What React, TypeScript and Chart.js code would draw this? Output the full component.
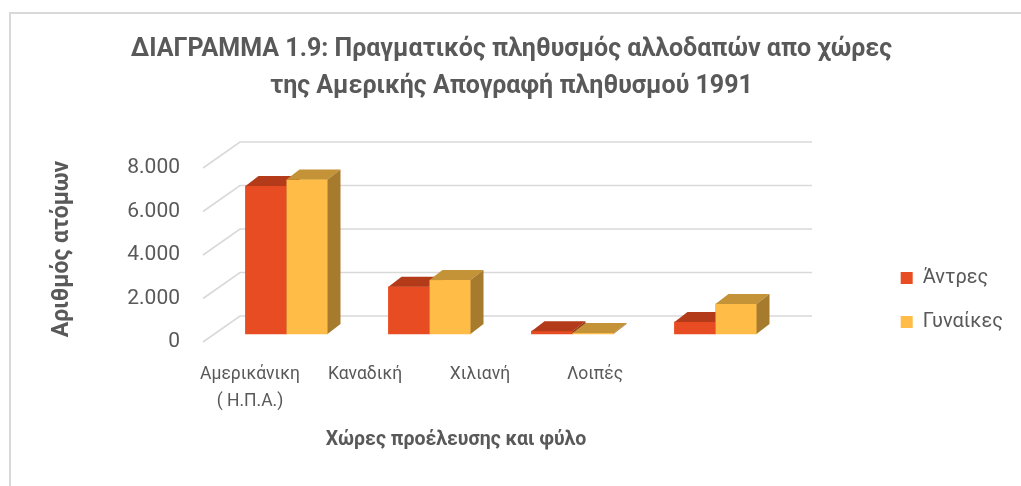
import React, { useEffect, useRef } from 'react';
import { Chart, registerables } from 'chart.js';

Chart.register(...registerables);

// ---------- data ----------
const TITLE_LINES = [
  'ΔΙΑΓΡΑΜΜΑ 1.9: Πραγματικός πληθυσμός αλλοδαπών απο χώρες',
  'της Αμερικής Απογραφή πληθυσμού 1991',
];
const CATEGORIES: (string | string[])[] = [
  ['Αμερικάνικη', '( Η.Π.Α.)'],
  'Καναδική',
  'Χιλιανή',
  'Λοιπές',
];
const SERIES_NAMES = ['Άντρες', 'Γυναίκες'];
const MEN = [6800, 2170, 130, 550];
const WOMEN = [7100, 2480, 50, 1380];
const Y_TICKS = [0, 2000, 4000, 6000, 8000];
const Y_TITLE = 'Αριθμός ατόμων';
const X_TITLE = 'Χώρες προέλευσης και φύλο';

// ---------- styles / geometry ----------
const FONT = 'Roboto, "Noto Sans", "DejaVu Sans", sans-serif';
const TEXT = '#595959';
const GRID = '#d9d9d9';
const FACES = [
  { front: '#E84C22', top: '#B33B1A', side: '#973116' },
  { front: '#FFBD47', top: '#C49237', side: '#A67B2E' },
];
const WALL = { dx: 37, dy: -26 }; // front plane -> back wall
const SHIFT = { dx: 12, dy: -8 }; // front plane -> bar front faces
const DEPTH = { dx: 13, dy: -10 }; // bar thickness in depth

const PLOT_LEFT = 203;
const PLOT_RIGHT = 709;
const PLOT_TOP = 142;
const PLOT_BOTTOM = 356;
const ZERO_Y = 342;
const PX_PER_UNIT = 174 / 8000;
const BAR_STEP = 143;
const LABEL_STEP = 115;
const FIRST_LABEL = 250;

const fmt = (v: number) => String(v).replace(/\B(?=(\d{3})+(?!\d))/g, '.');

const framePlugin = {
  id: 'frame',
  beforeDraw(chart: any) {
    const { ctx, width, height } = chart;
    ctx.save();
    ctx.fillStyle = '#ffffff';
    ctx.fillRect(0, 0, width, height);
    ctx.strokeStyle = GRID;
    ctx.lineWidth = 2;
    ctx.beginPath();
    ctx.moveTo(10, height + 5);
    ctx.lineTo(10, 13);
    ctx.lineTo(width + 5, 13);
    ctx.stroke();
    ctx.restore();
  },
};

const poly = (ctx: CanvasRenderingContext2D, pts: number[][], color: string) => {
  ctx.beginPath();
  ctx.moveTo(pts[0][0], pts[0][1]);
  for (let i = 1; i < pts.length; i++) ctx.lineTo(pts[i][0], pts[i][1]);
  ctx.closePath();
  ctx.fillStyle = color;
  ctx.fill();
};

const threeDPlugin = {
  id: 'threeD',
  beforeDatasetsDraw(chart: any) {
    const { ctx } = chart;
    const xs = chart.scales.x;
    const ys = chart.scales.y;
    const left = xs.getPixelForValue(-0.5);
    const right = xs.getPixelForValue(CATEGORIES.length - 0.5);
    ctx.save();
    ctx.strokeStyle = GRID;
    ctx.lineWidth = 1.6;
    for (const v of Y_TICKS) {
      const py = ys.getPixelForValue(v);
      ctx.beginPath();
      ctx.moveTo(left, py);
      ctx.lineTo(left + WALL.dx, py + WALL.dy);
      ctx.lineTo(right + WALL.dx, py + WALL.dy);
      ctx.stroke();
    }
    ctx.restore();
    ctx.save();
    ctx.translate(SHIFT.dx, SHIFT.dy);
  },
  afterDatasetsDraw(chart: any) {
    const { ctx } = chart;
    const metas = [chart.getDatasetMeta(0), chart.getDatasetMeta(1)];
    for (let i = 0; i < CATEGORIES.length; i++) {
      metas.forEach((meta: any, d: number) => {
        const bar = meta.data[i];
        if (!bar) return;
        const { x, y, base, width } = bar.getProps(['x', 'y', 'base', 'width'], true);
        const l = x - width / 2;
        const r = x + width / 2;
        const c = FACES[d];
        ctx.fillStyle = c.front;
        ctx.fillRect(l, y, width, base - y);
        poly(ctx, [[l, y], [r, y], [r + DEPTH.dx, y + DEPTH.dy], [l + DEPTH.dx, y + DEPTH.dy]], c.top);
        poly(ctx, [[r, y], [r + DEPTH.dx, y + DEPTH.dy], [r + DEPTH.dx, base + DEPTH.dy], [r, base]], c.side);
      });
    }
    ctx.restore();
  },
};

export default function App() {
  const ref = useRef<HTMLCanvasElement | null>(null);

  useEffect(() => {
    if (!ref.current) return;
    const plotW = PLOT_RIGHT - PLOT_LEFT;
    const xlMin = -(FIRST_LABEL - PLOT_LEFT) / LABEL_STEP;
    const yMin = -(PLOT_BOTTOM - ZERO_Y) / PX_PER_UNIT;
    const yMax = (ZERO_Y - PLOT_TOP) / PX_PER_UNIT;
    const chart = new Chart(ref.current, {
      type: 'bar',
      data: {
        datasets: [
          {
            label: SERIES_NAMES[0],
            data: MEN.map((v, i) => ({ x: i, y: v })),
            backgroundColor: FACES[0].front,
            borderWidth: 0,
            clip: false,
            xAxisID: 'x',
            yAxisID: 'y',
          } as any,
          {
            label: SERIES_NAMES[1],
            data: WOMEN.map((v, i) => ({ x: i, y: v })),
            backgroundColor: FACES[1].front,
            borderWidth: 0,
            clip: false,
            xAxisID: 'x',
            yAxisID: 'y',
          } as any,
        ],
      },
      options: {
        responsive: true,
        maintainAspectRatio: false,
        animation: false,
        events: [],
        layout: { padding: { left: 10, right: 8, top: 0, bottom: 28 } },
        datasets: { bar: { barThickness: 41, grouped: true } } as any,
        plugins: {
          title: {
            display: true,
            text: TITLE_LINES,
            color: TEXT,
            font: { family: FONT, size: 25, weight: 'bold', lineHeight: 37 / 25 },
            padding: { top: 31.5, bottom: 36.5 },
          },
          legend: {
            position: 'right',
            align: 'end',
            fullSize: false,
            weight: 1000,
            labels: {
              color: TEXT,
              font: { family: FONT, size: 20 },
              boxWidth: 12,
              boxHeight: 12,
              padding: 24,
            },
          } as any,
          tooltip: { enabled: false },
        },
        scales: {
          x: {
            type: 'linear',
            display: false,
            offset: false,
            grid: { offset: false },
            min: -0.5,
            max: -0.5 + plotW / BAR_STEP,
          },
          xl: {
            type: 'linear',
            position: 'bottom',
            offset: false,
            min: xlMin,
            max: xlMin + plotW / LABEL_STEP,
            grid: { display: false, drawTicks: false, offset: false },
            border: { display: false },
            afterBuildTicks: (s: any) => {
              s.ticks = CATEGORIES.map((_, i) => ({ value: i }));
            },
            afterFit: (s: any) => {
              s.height = 458 - PLOT_BOTTOM;
            },
            ticks: {
              color: TEXT,
              font: { family: FONT, size: 17.5, lineHeight: 27 / 17.5 },
              padding: 5.5,
              maxRotation: 0,
              autoSkip: false,
              callback: (v: any) => CATEGORIES[Math.round(Number(v))] as any,
            },
            title: {
              display: true,
              text: X_TITLE,
              color: TEXT,
              font: { family: FONT, size: 19.5, weight: 'bold', lineHeight: 1.2 },
              padding: { top: 10, bottom: 6.5 },
            },
          } as any,
          y: {
            position: 'left',
            min: yMin,
            max: yMax,
            grid: { display: false, drawTicks: false },
            border: { display: false },
            afterBuildTicks: (s: any) => {
              s.ticks = Y_TICKS.map((v) => ({ value: v }));
            },
            afterFit: (s: any) => {
              s.width = PLOT_LEFT - 10;
            },
            ticks: {
              color: TEXT,
              font: { family: FONT, size: 21 },
              padding: 23,
              callback: (v: any) => fmt(Number(v)),
            },
            title: {
              display: true,
              text: Y_TITLE,
              color: TEXT,
              font: { family: FONT, size: 23, weight: 'bold', lineHeight: 1.2 },
              padding: { top: 38.2, bottom: 0 },
            },
          } as any,
          gap: {
            type: 'linear',
            position: 'right',
            display: true,
            weight: 0,
            grid: { display: false, drawTicks: false },
            border: { display: false },
            ticks: { display: false },
            afterFit: (s: any) => {
              const lw = Number(s.chart.legend && s.chart.legend.width) || 140;
              s.width = Math.max(0, s.chart.width - 8 - lw - PLOT_RIGHT);
            },
          } as any,
        },
      },
      plugins: [framePlugin, threeDPlugin],
    });
    return () => chart.destroy();
  }, []);

  return (
    <div style={{ position: 'fixed', left: 0, top: 0, width: 1021, height: 486 }}>
      <canvas ref={ref} />
    </div>
  );
}
